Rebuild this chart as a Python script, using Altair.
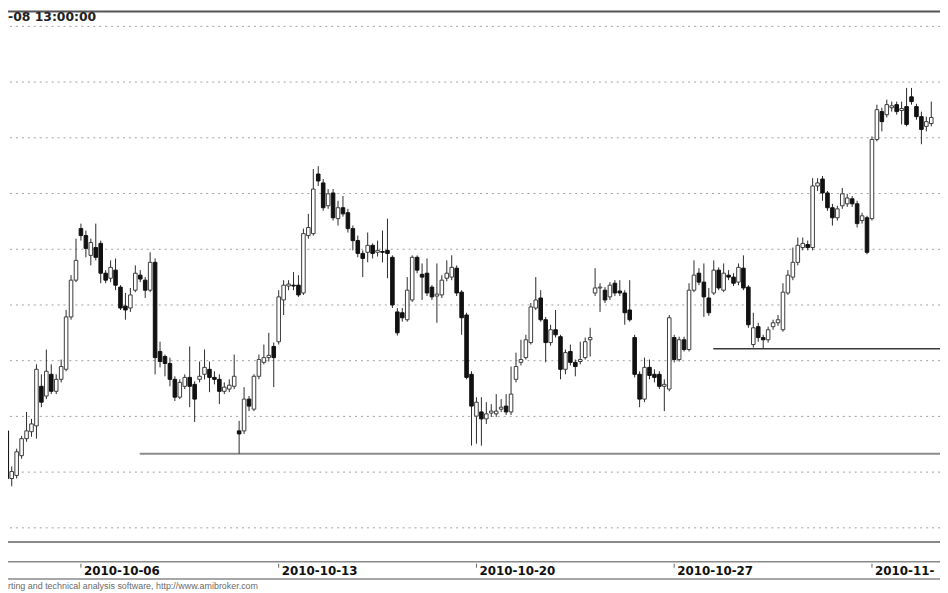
import altair as alt
import pandas as pd

# ---- hourly candles (price units) ----
opens = [2634.8, 2617.7, 2618.8, 2625.9, 2632.0, 2634.5, 2636.6, 2650.8, 2647.3, 2655.1,
         2649.0, 2653.3, 2656.9, 2675.7, 2688.9, 2707.4, 2704.9, 2697.8, 2700.6, 2702.1,
         2691.4, 2689.6, 2692.5, 2686.4, 2679.6, 2678.9, 2685.3, 2690.7, 2688.9, 2685.3,
         2695.3, 2663.3, 2661.5, 2659.0, 2653.3, 2646.9, 2650.8, 2654.0, 2651.5, 2653.3,
         2655.1, 2656.9, 2654.0, 2653.3, 2649.0, 2649.8, 2650.8, 2634.8, 2634.8, 2646.2,
         2642.6, 2654.4, 2659.4, 2661.1, 2665.1, 2666.8, 2681.8, 2686.8, 2687.1, 2687.1,
         2684.3, 2704.9, 2705.6, 2727.0, 2723.8, 2715.6, 2720.2, 2711.0, 2714.9, 2713.1,
         2707.4, 2703.1, 2698.5, 2698.9, 2701.4, 2698.9, 2699.2, 2699.6, 2697.1, 2677.5,
         2677.2, 2674.7, 2681.8, 2697.1, 2691.0, 2691.4, 2686.4, 2683.2, 2683.6, 2689.6,
         2690.0, 2693.2, 2684.6, 2676.4, 2655.1, 2640.1, 2641.6, 2639.1, 2641.2, 2640.9,
         2642.6, 2643.7, 2641.6, 2653.3, 2659.4, 2661.1, 2666.5, 2678.9, 2682.5, 2674.7,
         2666.5, 2671.1, 2668.6, 2656.9, 2663.3, 2659.4, 2659.7, 2661.1, 2667.5, 2684.3,
         2686.1, 2685.3, 2682.9, 2687.8, 2685.0, 2684.3, 2678.2, 2668.3, 2655.1, 2646.2,
         2657.6, 2655.1, 2655.1, 2650.8, 2649.8, 2668.3, 2660.4, 2667.5, 2664.0, 2685.3,
         2691.4, 2688.2, 2682.5, 2684.3, 2692.5, 2685.3, 2690.7, 2690.0, 2688.2, 2693.2,
         2686.4, 2665.8, 2672.2, 2668.3, 2667.5, 2672.2, 2673.6, 2671.1, 2684.3, 2690.0,
         2695.3, 2700.6, 2701.7, 2700.6, 2722.7, 2725.2, 2720.2, 2714.9, 2711.3, 2715.6,
         2716.3, 2718.1, 2716.3, 2710.3, 2711.3, 2711.0, 2739.4, 2749.4, 2748.3, 2750.8,
         2751.9, 2749.8, 2751.2, 2754.7, 2751.2, 2747.6, 2744.1, 2745.1]
highs = [2637.3, 2622.0, 2628.4, 2633.0, 2641.6, 2639.1, 2658.7, 2655.1, 2664.0, 2658.7,
         2655.1, 2660.4, 2678.2, 2690.7, 2703.8, 2709.2, 2706.7, 2703.8, 2709.2, 2703.1,
         2692.5, 2696.0, 2696.7, 2687.1, 2684.3, 2686.1, 2694.2, 2692.5, 2690.0, 2698.9,
         2696.7, 2666.8, 2662.2, 2661.1, 2654.4, 2653.3, 2655.1, 2665.1, 2652.6, 2659.7,
         2664.0, 2659.7, 2656.2, 2655.1, 2652.2, 2653.3, 2662.2, 2638.4, 2650.5, 2647.3,
         2655.1, 2662.2, 2665.8, 2670.0, 2666.5, 2685.3, 2688.9, 2688.9, 2691.8, 2690.7,
         2707.4, 2712.7, 2728.8, 2729.8, 2725.2, 2721.6, 2721.6, 2717.4, 2719.1, 2714.5,
         2708.5, 2704.9, 2699.6, 2706.0, 2702.1, 2703.1, 2706.7, 2711.0, 2697.8, 2678.9,
         2678.9, 2690.0, 2697.8, 2697.8, 2694.9, 2696.7, 2687.1, 2694.9, 2690.7, 2696.0,
         2697.8, 2694.2, 2685.3, 2677.2, 2656.2, 2646.9, 2646.9, 2645.1, 2644.4, 2648.0,
         2646.2, 2648.0, 2657.9, 2662.9, 2667.5, 2669.3, 2680.7, 2690.0, 2685.3, 2675.7,
         2672.9, 2678.2, 2669.3, 2664.0, 2665.8, 2660.4, 2666.8, 2668.3, 2671.8, 2693.2,
         2687.8, 2686.4, 2688.2, 2688.9, 2688.9, 2685.3, 2688.9, 2669.3, 2656.2, 2661.1,
         2660.4, 2656.9, 2656.2, 2653.3, 2676.4, 2669.3, 2668.6, 2668.6, 2687.8, 2696.0,
         2693.2, 2694.9, 2686.1, 2696.0, 2693.5, 2694.9, 2692.5, 2691.4, 2694.9, 2697.8,
         2687.1, 2677.2, 2673.6, 2669.3, 2672.2, 2674.7, 2676.4, 2687.8, 2692.5, 2700.6,
         2704.2, 2704.2, 2703.1, 2725.5, 2725.5, 2726.3, 2720.9, 2716.3, 2715.6, 2722.0,
         2719.9, 2719.1, 2717.4, 2713.1, 2712.0, 2740.5, 2751.9, 2750.8, 2753.7, 2753.0,
         2753.0, 2753.0, 2757.9, 2757.9, 2752.2, 2749.4, 2747.6, 2753.0]
lows = [2611.7, 2614.9, 2617.7, 2624.8, 2630.9, 2632.7, 2632.0, 2643.3, 2646.2, 2648.0,
        2648.0, 2652.2, 2656.2, 2674.7, 2688.2, 2703.1, 2697.1, 2694.2, 2696.0, 2687.8,
        2687.8, 2688.2, 2685.3, 2678.2, 2674.7, 2677.5, 2684.6, 2688.2, 2682.5, 2684.6,
        2655.1, 2657.6, 2654.4, 2650.8, 2645.5, 2646.2, 2649.8, 2643.3, 2638.0, 2652.2,
        2653.3, 2648.7, 2651.5, 2644.4, 2648.0, 2648.7, 2649.8, 2626.6, 2633.7, 2641.9,
        2641.9, 2653.3, 2658.7, 2659.7, 2650.5, 2665.8, 2676.4, 2685.3, 2685.3, 2682.9,
        2683.6, 2703.8, 2704.9, 2722.7, 2713.8, 2714.5, 2710.3, 2708.5, 2711.7, 2706.0,
        2699.6, 2697.1, 2690.0, 2695.3, 2696.7, 2697.4, 2695.3, 2689.6, 2678.9, 2669.0,
        2674.0, 2674.0, 2681.1, 2691.4, 2681.8, 2683.2, 2681.8, 2673.6, 2682.5, 2688.5,
        2688.9, 2683.2, 2669.3, 2653.3, 2629.5, 2630.2, 2629.5, 2637.3, 2639.8, 2639.8,
        2641.6, 2640.5, 2640.5, 2652.2, 2658.3, 2660.4, 2665.8, 2678.2, 2674.0, 2659.4,
        2665.4, 2668.3, 2653.3, 2655.1, 2658.3, 2654.4, 2658.7, 2660.4, 2661.5, 2683.2,
        2677.5, 2680.7, 2681.8, 2683.2, 2683.2, 2672.9, 2674.0, 2654.0, 2643.3, 2645.1,
        2653.3, 2652.2, 2649.8, 2641.9, 2649.0, 2659.4, 2659.7, 2663.3, 2663.3, 2684.6,
        2687.1, 2675.7, 2676.1, 2683.6, 2685.3, 2684.6, 2688.9, 2686.8, 2687.1, 2685.3,
        2671.8, 2664.7, 2666.8, 2664.3, 2666.5, 2671.1, 2672.5, 2670.4, 2683.6, 2688.9,
        2694.2, 2699.6, 2699.6, 2699.6, 2720.9, 2717.4, 2713.8, 2708.5, 2710.3, 2714.5,
        2715.2, 2715.2, 2707.8, 2709.2, 2698.2, 2710.3, 2738.7, 2742.3, 2747.3, 2749.4,
        2748.3, 2744.8, 2744.1, 2751.9, 2746.5, 2737.7, 2742.3, 2744.1]
closes = [2617.7, 2620.2, 2627.3, 2632.0, 2634.8, 2637.3, 2656.9, 2645.1, 2656.2, 2649.0,
          2653.3, 2657.9, 2675.7, 2688.9, 2696.0, 2704.9, 2700.3, 2702.4, 2697.1, 2691.4,
          2688.9, 2693.5, 2687.1, 2678.9, 2678.2, 2683.6, 2691.4, 2689.3, 2685.3, 2695.3,
          2661.1, 2659.7, 2659.0, 2653.3, 2646.9, 2652.2, 2654.0, 2650.8, 2646.2, 2654.4,
          2657.6, 2654.0, 2653.3, 2649.0, 2650.5, 2651.2, 2654.4, 2633.7, 2646.2, 2643.7,
          2654.4, 2660.4, 2661.1, 2661.9, 2661.1, 2682.9, 2687.1, 2687.5, 2686.8, 2683.6,
          2705.6, 2707.8, 2721.6, 2724.5, 2714.9, 2719.9, 2711.3, 2714.9, 2712.7, 2707.4,
          2703.1, 2698.5, 2696.7, 2701.4, 2698.5, 2699.6, 2698.9, 2698.5, 2680.0, 2670.0,
          2675.4, 2685.3, 2697.1, 2692.5, 2690.0, 2684.3, 2682.9, 2683.9, 2688.9, 2691.4,
          2693.5, 2684.3, 2675.4, 2654.0, 2643.7, 2645.1, 2639.1, 2640.9, 2641.9, 2641.9,
          2643.3, 2641.6, 2648.0, 2657.9, 2660.4, 2667.5, 2679.3, 2681.8, 2674.7, 2666.5,
          2671.1, 2669.3, 2656.9, 2662.9, 2659.4, 2657.9, 2660.4, 2666.8, 2668.3, 2686.1,
          2686.4, 2681.8, 2687.1, 2684.3, 2684.3, 2677.2, 2674.7, 2655.1, 2646.2, 2657.6,
          2654.7, 2654.0, 2650.8, 2651.5, 2675.4, 2660.4, 2667.5, 2664.0, 2685.3, 2690.7,
          2688.2, 2682.9, 2677.2, 2692.5, 2686.1, 2691.4, 2690.0, 2687.8, 2693.5, 2686.1,
          2672.9, 2671.8, 2668.3, 2667.5, 2671.1, 2673.6, 2674.7, 2684.6, 2690.7, 2695.3,
          2701.4, 2702.1, 2700.6, 2722.7, 2723.8, 2720.2, 2714.9, 2711.3, 2714.5, 2719.9,
          2718.4, 2716.3, 2709.2, 2712.0, 2698.9, 2739.4, 2750.1, 2745.8, 2751.9, 2751.5,
          2749.4, 2750.5, 2744.8, 2753.0, 2747.6, 2743.0, 2745.8, 2747.3]

# date labels (as visible in the picture) at the first bar of each Wednesday
label_dates = ["2010-10-06", "2010-10-13", "2010-10-20", "2010-10-27", "2010-11-"]
label_bars = [15, 55, 95, 135, 175]

grid_prices = [2600, 2620, 2640, 2660, 2680, 2700, 2720, 2740, 2760, 2780]

# two horizontal support lines drawn by the user (price, from bar, to bar)
support_prices = [2626.6, 2664.3]
support_from = [26.9, 142.9]
support_to = [192, 192]

title_text = "-08 13:00:00"
footer_text = "rting and technical analysis software, http://www.amibroker.com"

W, H = 940, 585
xs = alt.Scale(domain=[1.25, 187.76], nice=False, zero=False)
ys = alt.Scale(domain=[2577.5, 2785.7], nice=False, zero=False)

bars = pd.DataFrame({"bar": list(range(len(opens))), "open": opens, "high": highs,
                     "low": lows, "close": closes})
bars["dir"] = ["up" if c >= o else "down" for o, c in zip(opens, closes)]

one = pd.DataFrame({"k": [0]})


def hline(yp, color, w):
    return alt.Chart(one).mark_rule(color=color, strokeWidth=w).encode(
        x=alt.value(0), x2=alt.value(W), y=alt.value(yp))


grid = alt.Chart(pd.DataFrame({"price": grid_prices})).mark_rule(
    color="#a0a0a0", strokeWidth=1, strokeDash=[2, 4]
).encode(y=alt.Y("price:Q", scale=ys, axis=None))

sup = pd.DataFrame({"price": support_prices, "x0": support_from, "x1": support_to})
sup1 = alt.Chart(sup.iloc[[0]]).mark_rule(color="#8c8c8c", strokeWidth=2, clip=True).encode(
    x=alt.X("x0:Q", scale=xs, axis=None), x2="x1:Q",
    y=alt.Y("price:Q", scale=ys, axis=None))
sup2 = alt.Chart(sup.iloc[[1]]).mark_rule(color="#3a3a3a", strokeWidth=1.5, clip=True).encode(
    x=alt.X("x0:Q", scale=xs, axis=None), x2="x1:Q",
    y=alt.Y("price:Q", scale=ys, axis=None))

wicks = alt.Chart(bars).mark_rule(color="#2a2a2a", strokeWidth=1, clip=True).encode(
    x=alt.X("bar:Q", scale=xs, axis=None),
    y=alt.Y("low:Q", scale=ys, axis=None),
    y2="high:Q")

bodies = alt.Chart(bars).mark_bar(size=3.6, strokeWidth=1, clip=True).encode(
    x=alt.X("bar:Q", scale=xs, axis=None),
    y=alt.Y("open:Q", scale=ys, axis=None),
    y2="close:Q",
    fill=alt.Fill("dir:N", scale=alt.Scale(domain=["up", "down"], range=["#ffffff", "#111111"]), legend=None),
    stroke=alt.Stroke("dir:N", scale=alt.Scale(domain=["up", "down"], range=["#3c3c3c", "#111111"]), legend=None),
)

labels = pd.DataFrame({"bar": label_bars, "date": label_dates})
ticks = alt.Chart(labels).mark_rule(color="#666666", strokeWidth=1).encode(
    x=alt.X("bar:Q", scale=xs, axis=None), y=alt.value(558), y2=alt.value(562))
date_text = alt.Chart(labels).mark_text(
    align="left", baseline="alphabetic", dx=3, font="DejaVu Sans", fontWeight="bold",
    fontSize=12, color="#111111"
).encode(x=alt.X("bar:Q", scale=xs, axis=None), y=alt.value(569), text="date:N")

title = alt.Chart(one).mark_text(
    align="left", baseline="alphabetic", font="DejaVu Sans", fontWeight="bold",
    fontSize=12.5, color="#222222"
).encode(x=alt.value(0), y=alt.value(11), text=alt.value(title_text))

footer = alt.Chart(one).mark_text(
    align="left", baseline="alphabetic", font="Liberation Sans", fontSize=9, color="#6a6a6a"
).encode(x=alt.value(0), y=alt.value(583), text=alt.value(footer_text))

chart = alt.layer(
    grid, sup1, sup2, wicks, bodies,
    hline(1, "#555555", 2), hline(536, "#8a8a8a", 2),
    hline(556, "#8a8a8a", 1.5), hline(573.5, "#8a8a8a", 1.5),
    ticks, date_text, title, footer,
).properties(
    width=W, height=H, padding=0, autosize="none", background="white"
).configure_view(stroke=None)

chart.save("out.html", embed_options={"renderer": "svg", "actions": False})
